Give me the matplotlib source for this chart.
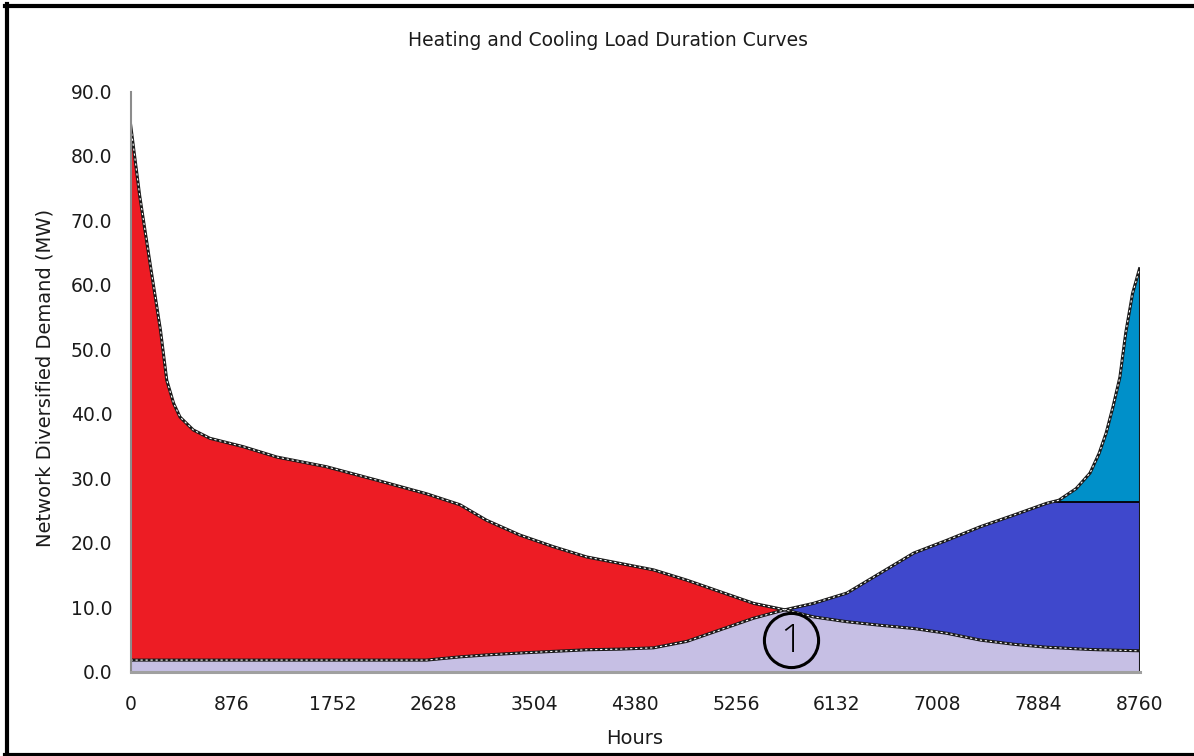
import numpy as np
import matplotlib
matplotlib.use("Agg")
import matplotlib.pyplot as plt
from matplotlib.lines import Line2D

plt.rcParams['font.family'] = ['DejaVu Sans']

# Hours of the year (sample points along the duration curves)
hours = [0, 80, 170, 260, 315, 375, 430, 545, 690, 980, 1270, 1700, 2140,
         2570, 2860, 3090, 3380, 3670, 3960, 4250, 4540, 4830, 5120, 5410,
         5680, 5930, 6220, 6510, 6800, 7090, 7380, 7670, 7950, 8060, 8210,
         8330, 8410, 8470, 8530, 8590, 8640, 8700, 8760]

# Heating load duration curve (MW), descending
heating = [85.0, 73.8, 63.3, 53.0, 45.2, 41.6, 39.5, 37.5, 36.2, 34.9, 33.3,
           31.8, 29.7, 27.6, 25.9, 23.5, 21.2, 19.4, 17.8, 16.8, 15.8, 14.2,
           12.4, 10.6, 9.6, 8.5, 7.75, 7.2, 6.7, 5.95, 4.9, 4.25, 3.8, 3.7,
           3.55, 3.45, 3.4, 3.38, 3.35, 3.32, 3.3, 3.27, 3.25]

# Cooling load duration curve (MW), plotted ascending
cooling = [1.8, 1.8, 1.8, 1.8, 1.8, 1.8, 1.8, 1.8, 1.8, 1.8, 1.8, 1.8, 1.8,
           1.8, 2.3, 2.6, 2.9, 3.15, 3.4, 3.5, 3.7, 4.7, 6.5, 8.3, 9.6, 10.6,
           12.2, 15.3, 18.4, 20.4, 22.5, 24.3, 26.1, 26.6, 28.4, 30.8, 33.9,
           37.0, 41.1, 45.7, 52.5, 58.7, 62.5]

# Chiller base capacity (MW) separating base and peak cooling
cooling_base = 26.4

x_ticks = [0, 876, 1752, 2628, 3504, 4380, 5256, 6132, 7008, 7884, 8760]
y_ticks = [0, 10, 20, 30, 40, 50, 60, 70, 80, 90]

# Position of the numbered marker at the crossover of the two curves
marker_pos = (5734, 4.9)
marker_text = "1"

h = np.array(hours, dtype=float)
heat = np.array(heating)
cool = np.array(cooling)
low = np.minimum(heat, cool)

RED = "#ED1C24"
LAV = "#C6BFE4"
BLUE = "#3F48CC"
CYAN = "#0090C9"

fig = plt.figure(figsize=(11.94, 7.56), dpi=100)
ax = fig.add_axes([130.5 / 1194, 1 - 671.7 / 756, 1009 / 1194, (671.7 - 91.5) / 756])

ax.fill_between(h, 0, low, color=LAV, lw=0, zorder=1)
ax.fill_between(h, cool, heat, where=heat >= cool, interpolate=True,
                color=RED, lw=0, zorder=1)
ax.fill_between(h, heat, np.minimum(cool, cooling_base), where=cool >= heat,
                interpolate=True, color=BLUE, lw=0, zorder=1)
ax.fill_between(h, cooling_base, cool, where=cool >= cooling_base,
                interpolate=True, color=CYAN, lw=0, zorder=1)

# Base-load split line
rise = cool >= cooling_base
i = np.argmax(rise)
x_split = np.interp(cooling_base, cool[i - 1:i + 1], h[i - 1:i + 1])
ax.plot([x_split, h[-1]], [cooling_base, cooling_base], color="black", lw=1.3, zorder=3)

# Curve outlines: dark line with a light dash running along it
for y in (heat, cool):
    ax.plot(h, y, color="#1a1a1a", lw=2.2, zorder=4, solid_joinstyle="round")
    ax.plot(h, y, color="white", lw=0.8, zorder=5, dashes=(2.0, 2.5))

# Right-hand closing edge
ax.plot([h[-1], h[-1]], [-0.8, cool[-1]], color="#1a1a1a", lw=1.5, zorder=4)

# Crossover marker
ax.plot([marker_pos[0]], [marker_pos[1]], marker="o", ms=39, mfc="none",
        mec="black", mew=2.2, zorder=6)
ax.text(marker_pos[0], marker_pos[1] - 0.2, marker_text, ha="center", va="center",
        fontsize=28, family=["Open Sans", "DejaVu Sans"], fontweight="light",
        color="black", zorder=6)

ax.set_xlim(0, 8760)
ax.set_ylim(0, 90)
ax.set_xticks(x_ticks)
ax.set_xticklabels([str(t) for t in x_ticks])
ax.set_yticks(y_ticks)
ax.set_yticklabels([f"{t:.1f}" for t in y_ticks])
ax.tick_params(axis="both", length=0, labelsize=13.5, colors="#1b1b1b")
ax.tick_params(axis="x", pad=17)
ax.tick_params(axis="y", pad=13)

for s in ("top", "right"):
    ax.spines[s].set_visible(False)
ax.spines["left"].set_color("#8c8c8c")
ax.spines["left"].set_linewidth(1.5)
ax.spines["bottom"].set_color("#a0a0a0")
ax.spines["bottom"].set_linewidth(2.2)
ax.spines["left"].set_zorder(7)
ax.spines["bottom"].set_zorder(7)

fig.text(608 / 1194, 1 - 41 / 756, "Heating and Cooling Load Duration Curves",
         ha="center", va="center", fontsize=13.5, color="#1b1b1b")
fig.text(635 / 1194, 1 - 738 / 756, "Hours", ha="center", va="center",
         fontsize=14, color="#1b1b1b")
fig.text(45 / 1194, 1 - 378 / 756, "Network Diversified Demand (MW)",
         ha="center", va="center", rotation=90, fontsize=14, color="#1b1b1b")

# Outer frame
frame_kw = dict(color="black", lw=3, transform=fig.transFigure, figure=fig)
fig.lines.append(Line2D([6.5 / 1194, 6.5 / 1194], [0, 1 - 4 / 756], **frame_kw))
fig.lines.append(Line2D([5 / 1194, 1], [1 - 6 / 756, 1 - 6 / 756], **frame_kw))
fig.lines.append(Line2D([5 / 1194, 1], [1.5 / 756, 1.5 / 756], **frame_kw))

fig.savefig("out.png", dpi=100)
